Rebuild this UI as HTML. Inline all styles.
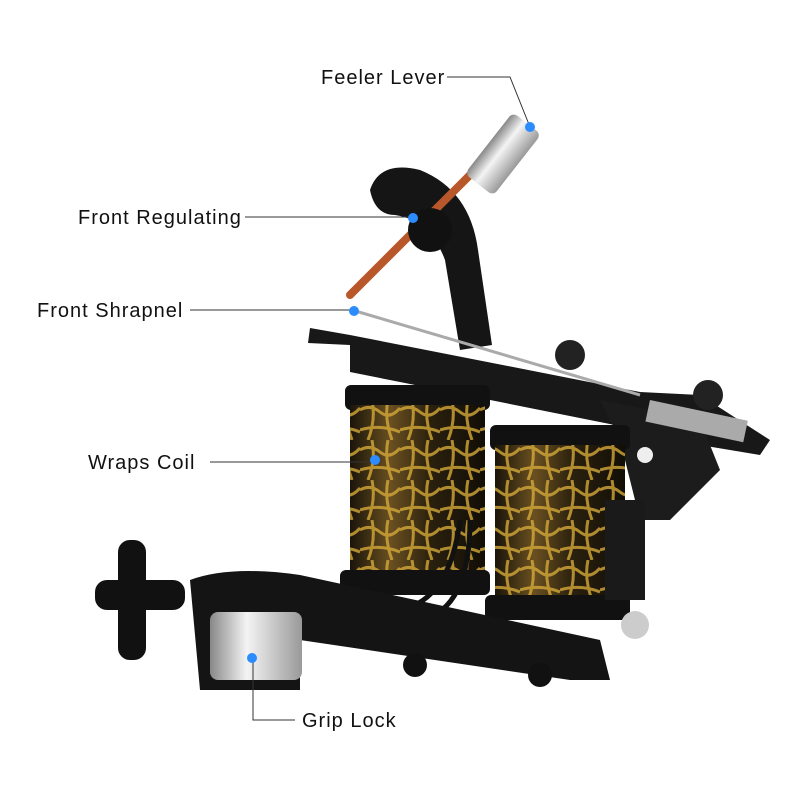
<!DOCTYPE html>
<html><head><style>
body{margin:0;background:#fff;width:800px;height:800px;overflow:hidden}
svg{display:block}
text{font-family:"Liberation Sans",sans-serif;font-size:20px;fill:#111;letter-spacing:1px}
</style></head><body>
<svg width="800" height="800" viewBox="0 0 800 800">
<defs>
<linearGradient id="gold" x1="0" x2="1">
<stop offset="0" stop-color="#1a140a"/><stop offset="0.3" stop-color="#6a5020"/><stop offset="0.6" stop-color="#2a200e"/><stop offset="1" stop-color="#120e06"/>
</linearGradient>
<linearGradient id="silver" x1="0" x2="1">
<stop offset="0" stop-color="#888"/><stop offset="0.4" stop-color="#f4f4f4"/><stop offset="1" stop-color="#999"/>
</linearGradient>
<pattern id="crack" width="40" height="40" patternUnits="userSpaceOnUse">
<path d="M0 10 Q10 4 20 12 T40 8 M12 0 Q16 20 8 40 M28 0 Q24 18 32 40 M0 30 Q20 24 40 32" stroke="#d4a838" stroke-width="3" fill="none"/>
</pattern>
</defs>
<path d="M370 190 Q380 160 420 170 Q470 190 478 250 L492 345 L460 350 L445 260 Q430 220 395 215 Q375 215 370 190Z" fill="#151515"/>
<path d="M310 328 L350 335 L640 392 L700 395 L770 440 L760 455 L700 445 L640 430 L350 372 L350 345 L308 343Z" fill="#181818"/>
<path d="M600 400 L700 420 L720 470 L670 520 L640 520 L620 440Z" fill="#1c1c1c"/>
<circle cx="645" cy="455" r="8" fill="#eee"/>
<rect x="650" y="400" width="100" height="22" fill="#aaa" transform="rotate(12 650 400)"/>
<circle cx="708" cy="395" r="15" fill="#222"/>
<circle cx="570" cy="355" r="15" fill="#222"/>
<path d="M352 310 L640 395" stroke="#aaa" stroke-width="3"/>
<rect x="345" y="385" width="145" height="25" rx="6" fill="#111"/>
<rect x="350" y="405" width="135" height="170" fill="url(#gold)"/>
<rect x="350" y="405" width="135" height="170" fill="url(#crack)" opacity="0.8"/>
<rect x="340" y="570" width="150" height="25" rx="6" fill="#111"/>
<rect x="490" y="425" width="140" height="25" rx="6" fill="#111"/>
<rect x="495" y="445" width="130" height="155" fill="url(#gold)"/>
<rect x="495" y="445" width="130" height="155" fill="url(#crack)" opacity="0.8"/>
<rect x="485" y="595" width="145" height="25" rx="6" fill="#111"/>
<path d="M460 520 Q450 600 400 610 M470 520 Q470 610 420 620" stroke="#111" stroke-width="5" fill="none"/>
<path d="M190 580 Q230 565 300 575 L600 640 L610 680 L570 680 L300 640 L300 690 L200 690 Z" fill="#141414"/>
<rect x="210" y="612" width="92" height="68" rx="8" fill="url(#silver)"/>
<circle cx="540" cy="675" r="12" fill="#111"/><circle cx="415" cy="665" r="12" fill="#111"/>
<rect x="95" y="580" width="90" height="30" rx="12" fill="#111"/>
<rect x="118" y="540" width="28" height="120" rx="12" fill="#111"/>
<rect x="605" y="500" width="40" height="100" fill="#1a1a1a"/>
<circle cx="635" cy="625" r="14" fill="#ccc"/>
<line x1="350" y1="295" x2="470" y2="175" stroke="#b8582a" stroke-width="8" stroke-linecap="round"/>
<circle cx="430" cy="230" r="22" fill="#111"/>
<rect x="485" y="115" width="36" height="78" rx="6" fill="url(#silver)" transform="rotate(38 503 154)"/>
<g stroke="#333" stroke-width="1" fill="none">
<path d="M447 77 H510 L530 127"/>
<path d="M245 217 H412"/>
<path d="M190 310 H353"/>
<path d="M210 462 H373"/>
<path d="M295 720 H253 V658"/>
</g>
<g fill="#2a8cff">
<circle cx="530" cy="127" r="5"/><circle cx="413" cy="218" r="5"/><circle cx="354" cy="311" r="5"/><circle cx="375" cy="460" r="5"/><circle cx="252" cy="658" r="5"/>
</g>
<text x="321" y="84">Feeler Lever</text>
<text x="78" y="224">Front Regulating</text>
<text x="37" y="317">Front Shrapnel</text>
<text x="88" y="469">Wraps Coil</text>
<text x="302" y="727">Grip Lock</text>
</svg>
</body></html>
